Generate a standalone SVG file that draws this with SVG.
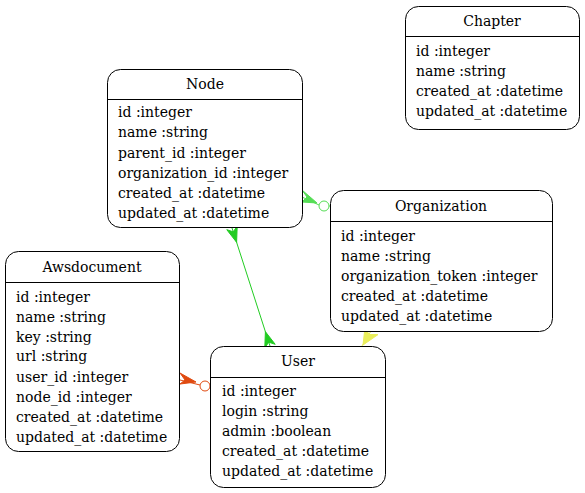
<svg xmlns="http://www.w3.org/2000/svg" width="585" height="493" viewBox="0 0 585 493">
<style>
.box{fill:#fff;stroke:#000;stroke-width:1}
.sep{stroke:#000;stroke-width:1}
text{font-family:"DejaVu Serif",serif;font-size:14px;fill:#000}
.t{text-anchor:middle}
.e{fill:none;stroke-width:1}
</style>
<rect width="585" height="493" fill="#fff"/>
<g id="connectors">
  <g id="e-node-org" stroke="#55dd55" fill="#55dd55">
    <path class="e" d="M302,197 L319,205"/>
    <path d="M302,190 L317,203 L302,202 L307,197 Z"/>
    <circle cx="324" cy="206" r="5" fill="#fff"/>
    <path class="e" d="M329,206 L331,206"/>
  </g>
  <g id="e-node-user" stroke="#22cc22" fill="#22cc22">
    <path class="e" d="M232,228 L270,346"/>
    <path d="M237.2,226.3 L236.6,242.3 L226.8,229.7 L233.2,231.8 Z"/>
    <path d="M275.2,344.3 L265.4,331.7 L264.8,347.7 L268.8,342.2 Z"/>
  </g>
  <g id="e-aws-user" stroke="#e04a10" fill="#e04a10">
    <path class="e" d="M180,380 L200,385"/>
    <path d="M180,373 L196,382 L180,384 L185,380 Z"/>
    <circle cx="205" cy="386" r="5" fill="#fff"/>
  </g>
  <g id="e-org-user" stroke="#eaee5a" fill="#eaee5a">
    <path class="e" d="M371,331 L362,346"/>
    <path d="M378,334.6 L363,345 L365,327.4 L369,334.5 Z"/>
  </g>
</g>
<g id="Chapter">
  <rect class="box" x="405.5" y="6.5" width="174" height="123" rx="13"/>
  <line class="sep" x1="405.5" y1="36.5" x2="579.5" y2="36.5"/>
  <text class="t" x="492" y="26">Chapter</text>
  <text x="416" y="56">id :integer</text>
  <text x="416" y="76">name :string</text>
  <text x="416" y="96">created_at :datetime</text>
  <text x="416" y="116">updated_at :datetime</text>
</g>
<g id="Node">
  <rect class="box" x="107.5" y="69.5" width="195" height="158" rx="13"/>
  <line class="sep" x1="107.5" y1="99.5" x2="302.5" y2="99.5"/>
  <text class="t" x="205" y="89">Node</text>
  <text x="118" y="117">id :integer</text>
  <text x="118" y="137">name :string</text>
  <text x="118" y="158">parent_id :integer</text>
  <text x="118" y="178">organization_id :integer</text>
  <text x="118" y="198">created_at :datetime</text>
  <text x="118" y="218">updated_at :datetime</text>
</g>
<g id="Organization">
  <rect class="box" x="330.5" y="190.5" width="222" height="141" rx="13"/>
  <line class="sep" x1="330.5" y1="221.5" x2="552.5" y2="221.5"/>
  <text class="t" x="441" y="211">Organization</text>
  <text x="341" y="241">id :integer</text>
  <text x="341" y="261">name :string</text>
  <text x="341" y="281">organization_token :integer</text>
  <text x="341" y="301">created_at :datetime</text>
  <text x="341" y="321">updated_at :datetime</text>
</g>
<g id="Awsdocument">
  <rect class="box" x="5.5" y="251.5" width="174" height="200" rx="13"/>
  <line class="sep" x1="5.5" y1="282.5" x2="179.5" y2="282.5"/>
  <text class="t" x="92" y="272">Awsdocument</text>
  <text x="16" y="302">id :integer</text>
  <text x="16" y="322">name :string</text>
  <text x="16" y="342">key :string</text>
  <text x="16" y="361">url :string</text>
  <text x="16" y="382">user_id :integer</text>
  <text x="16" y="402">node_id :integer</text>
  <text x="16" y="422">created_at :datetime</text>
  <text x="16" y="442">updated_at :datetime</text>
</g>
<g id="User">
  <rect class="box" x="210.5" y="346.5" width="175" height="141" rx="13"/>
  <line class="sep" x1="210.5" y1="377.5" x2="385.5" y2="377.5"/>
  <text class="t" x="298" y="366">User</text>
  <text x="222" y="396">id :integer</text>
  <text x="222" y="416">login :string</text>
  <text x="222" y="436">admin :boolean</text>
  <text x="222" y="456">created_at :datetime</text>
  <text x="222" y="476">updated_at :datetime</text>
</g>
</svg>
